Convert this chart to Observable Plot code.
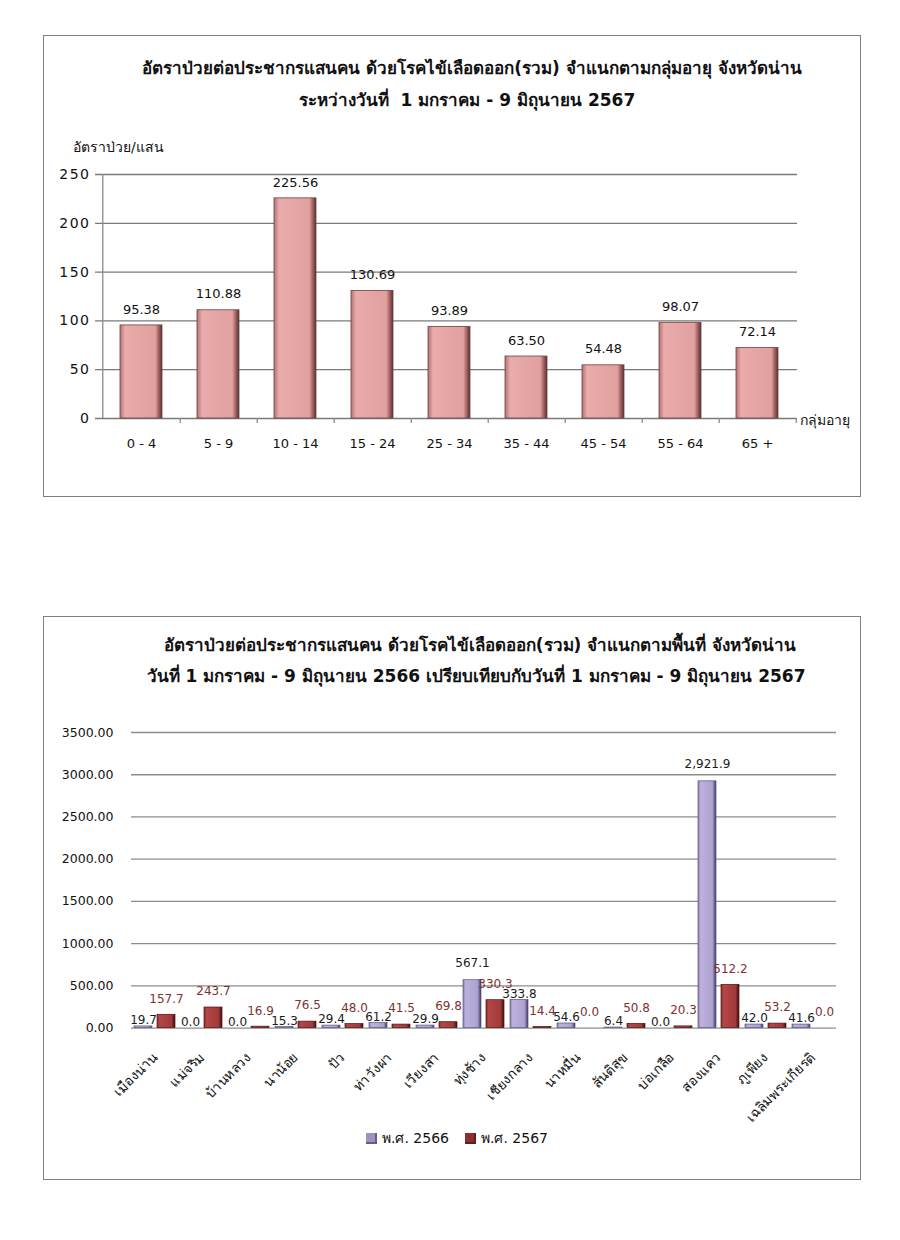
<!DOCTYPE html>
<html><head><meta charset="utf-8">
<script src="https://cdn.jsdelivr.net/npm/d3@7"></script>
<script src="https://cdn.jsdelivr.net/npm/@observablehq/plot@0.6"></script>
<style>
body{margin:0;background:#fff;font-family:Tahoma,"DejaVu Sans","Noto Sans",sans-serif;color:#111;}
.box{position:absolute;border:1px solid #808080;background:#fff;}
.t{position:absolute;left:0;width:100%;text-align:center;font-weight:bold;font-size:17px;line-height:22px;white-space:nowrap;}
.lab{position:absolute;font-size:14px;line-height:18px;white-space:nowrap;}
.plot{position:absolute;left:0;}
.legend{position:absolute;left:0;width:100%;text-align:center;font-size:14px;line-height:18px;}
.legend span.sw{display:inline-block;width:11px;height:11px;margin-right:5px;vertical-align:-1px;}
.legend span.it{margin:0 8px;}
</style></head><body>
<svg width="0" height="0" style="position:absolute;left:0;top:0">
<defs>
<linearGradient id="gTop" x1="0" x2="1" y1="0" y2="0">
 <stop offset="0" stop-color="#b47272"/>
 <stop offset="0.12" stop-color="#e9abab"/>
 <stop offset="0.84" stop-color="#e2a0a0"/>
 <stop offset="0.93" stop-color="#9a5c5c"/>
 <stop offset="1" stop-color="#573232"/>
</linearGradient>
<linearGradient id="g66" x1="0" x2="1" y1="0" y2="0">
 <stop offset="0" stop-color="#8a7fb0"/>
 <stop offset="0.15" stop-color="#bdb2dc"/>
 <stop offset="0.8" stop-color="#ada2cf"/>
 <stop offset="0.92" stop-color="#6c6391"/>
 <stop offset="1" stop-color="#3f3859"/>
</linearGradient>
<linearGradient id="g67" x1="0" x2="1" y1="0" y2="0">
 <stop offset="0" stop-color="#8a2c2c"/>
 <stop offset="0.15" stop-color="#b44646"/>
 <stop offset="0.8" stop-color="#a23a3a"/>
 <stop offset="0.92" stop-color="#6a1d1d"/>
 <stop offset="1" stop-color="#3d0f0f"/>
</linearGradient>
</defs></svg>

<div class="box" style="left:43px;top:35px;width:816px;height:460px;">
  <div class="t" style="top:21px;padding-left:40px;box-sizing:border-box;">อัตราป่วยต่อประชากรแสนคน ด้วยโรคไข้เลือดออก(รวม) จำแนกตามกลุ่มอายุ จังหวัดน่าน</div>
  <div class="t" style="top:53px;padding-left:30px;box-sizing:border-box;">ระหว่างวันที่&nbsp; 1 มกราคม - 9 มิถุนายน 2567</div>
  <div class="lab" style="left:29px;top:102px;">อัตราป่วย/แสน</div>
  <div class="plot" id="p1" style="top:94px;"></div>
  <div class="lab" style="left:756px;top:375px;">กลุ่มอายุ</div>
</div>

<div class="box" style="left:43px;top:616px;width:816px;height:562px;">
  <div class="t" style="top:17px;padding-left:56px;box-sizing:border-box;">อัตราป่วยต่อประชากรแสนคน ด้วยโรคไข้เลือดออก(รวม) จำแนกตามพื้นที่ จังหวัดน่าน</div>
  <div class="t" style="top:48px;padding-left:48px;box-sizing:border-box;">วันที่ 1 มกราคม - 9 มิถุนายน 2566 เปรียบเทียบกับวันที่ 1 มกราคม - 9 มิถุนายน 2567</div>
  <div class="plot" id="p2" style="top:83px;"></div>
  <div class="legend" id="leg" style="top:512px;padding-left:10px;box-sizing:border-box;"></div>
</div>

<script>
// ---------- Chart 1 data ----------
const ages = ["0 - 4","5 - 9","10 - 14","15 - 24","25 - 34","35 - 44","45 - 54","55 - 64","65 +"];
const ageRates = [95.38,110.88,225.56,130.69,93.89,63.50,54.48,98.07,72.14];
const yTicks1 = [0,50,100,150,200,250];

// ---------- Chart 2 data ----------
const areas = ["เมืองน่าน","แม่จริม","บ้านหลวง","นาน้อย","ปัว","ท่าวังผา","เวียงสา","ทุ่งช้าง","เชียงกลาง","นาหมื่น","สันติสุข","บ่อเกลือ","สองแคว","ภูเพียง","เฉลิมพระเกียรติ"];
const years = ["2566","2567"];
const yearLabels = ["พ.ศ. 2566","พ.ศ. 2567"];
const rate2566 = [19.7,0.0,0.0,15.3,29.4,61.2,29.9,567.1,333.8,54.6,6.4,0.0,2921.9,42.0,41.6];
const rate2567 = [157.7,243.7,16.9,76.5,48.0,41.5,69.8,330.3,14.4,0.0,50.8,20.3,512.2,53.2,0.0];
const yTicks2 = [0,500,1000,1500,2000,2500,3000,3500];

// ---------- Chart 1 ----------
const table1 = ages.map((a,i)=>({age:a, rate:ageRates[i]}));
const W1 = 816, ml1 = 56, mr1 = 63;
const step1 = (W1 - ml1 - mr1) / ages.length;
const y1Max = yTicks1[yTicks1.length-1];
const p1 = Plot.plot({
  width: W1, height: 340,
  marginTop: 44, marginBottom: 52, marginLeft: ml1, marginRight: mr1,
  style: {fontFamily: "'DejaVu Sans', sans-serif", fontSize: "13px", color: "#111", background: "transparent"},
  x: {domain: ages, paddingInner: 0.46, paddingOuter: 0.23, label: null, tickSize: 0, tickPadding: 20},
  y: {domain: [0, y1Max], ticks: yTicks1, label: null, tickSize: 0, tickPadding: 10},
  marks: [
    Plot.ruleY(yTicks1, {stroke: "#7a7a7a", strokeWidth: 1.3, insetLeft: -5}),
    Plot.ruleX([ages[0]], {x: d=>d, dx: -step1/2, y1: 0, y2: y1Max, stroke: "#8a8a8a", strokeWidth: 1.3}),
    Plot.ruleX(ages, {x: d=>d, dx: step1/2, y1: 0, y2: 0, insetBottom: -5, stroke: "#8a8a8a", strokeWidth: 1.3}),
    Plot.barY(table1, {x: "age", y: "rate", fill: "url(#gTop)", stroke: "#6e4040", strokeWidth: 0.8}),
    Plot.text(table1, {x: "age", y: "rate", text: d => d.rate.toFixed(2), dy: -16, fill: "#111", fontSize: 13})
  ]
});
d3.select(p1).selectAll('g[aria-label^="y-axis"] text').style("font-size", "14px").style("letter-spacing", "1.5px");
document.getElementById("p1").appendChild(p1);

// ---------- Chart 2 ----------
const table2 = areas.flatMap((a,i)=>[
  {area:a, year:years[0], value:rate2566[i]},
  {area:a, year:years[1], value:rate2567[i]}
]);
const fmt2 = d3.format(",.1f");
const y2Max = yTicks2[yTicks2.length-1];
const tall = 500;
const p2 = Plot.plot({
  width: 816, height: 430,
  marginTop: 32, marginBottom: 102.4, marginLeft: 82, marginRight: 20,
  style: {fontFamily: "'DejaVu Sans', sans-serif", fontSize: "12.5px", color: "#111", background: "transparent"},
  facet: {data: table2, x: "area"},
  fx: {domain: areas, padding: 0, label: null, axis: "bottom", tickRotate: -45, tickSize: 0, tickPadding: 27},
  x: {domain: years, paddingInner: 0.22, paddingOuter: 0.11, axis: null},
  y: {domain: [0, y2Max], ticks: yTicks2, tickFormat: d3.format(".2f"), label: null, tickSize: 0, tickPadding: 18},
  marks: [
    Plot.ruleY(yTicks2, {stroke: "#8c8c8c", strokeWidth: 1.3}),
    Plot.barY(table2, {filter: d => d.year === years[0], x: "year", y: "value", fill: "url(#g66)", stroke: "#5b5480", strokeWidth: 0.7}),
    Plot.barY(table2, {filter: d => d.year === years[1], x: "year", y: "value", fill: "url(#g67)", stroke: "#4a1414", strokeWidth: 0.7}),
    Plot.text(table2, {filter: d => d.year === years[0] && d.value < tall, x: "year", y: "value", text: d => fmt2(d.value), dy: -6, fill: "#1a1a1a", fontSize: 12}),
    Plot.text(table2, {filter: d => d.year === years[0] && d.value >= tall, x: "year", y: "value", text: d => fmt2(d.value), dy: -17, fill: "#1a1a1a", fontSize: 12}),
    Plot.text(table2, {filter: d => d.year === years[1], x: "year", y: "value", text: d => fmt2(d.value), dy: -16, fill: "#7e3232", fontSize: 12})
  ]
});
d3.select(p2).selectAll('g[aria-label^="fx-axis"] text').style("font-size", "13.5px");
document.getElementById("p2").appendChild(p2);

// ---------- Legend ----------
const solid = ["#9d92c4","#8f2e2e"];
const leg = document.getElementById("leg");
yearLabels.forEach((lab,i)=>{
  const it = document.createElement("span");
  it.className = "it";
  const sw = document.createElement("span");
  sw.className = "sw";
  sw.style.background = solid[i];
  sw.style.boxShadow = "inset -2px -2px 0 rgba(0,0,0,0.35)";
  it.appendChild(sw);
  it.appendChild(document.createTextNode(lab));
  leg.appendChild(it);
});
</script>
</body></html>
